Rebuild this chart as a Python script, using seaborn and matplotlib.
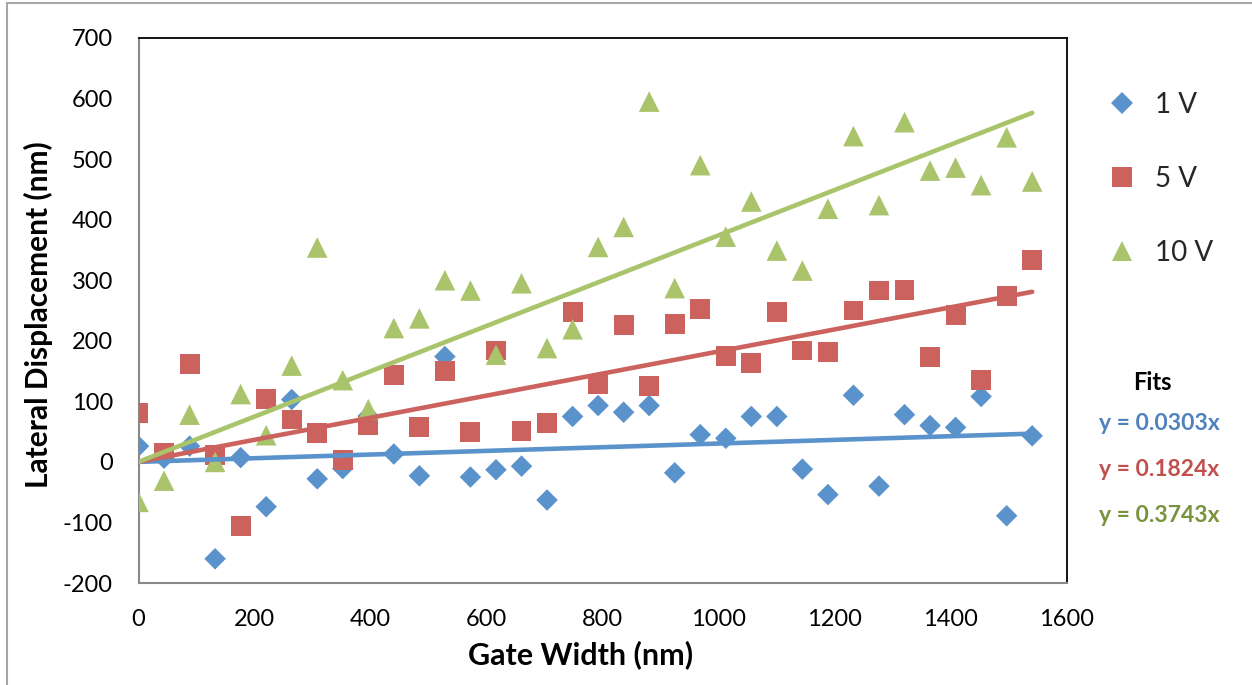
import matplotlib
matplotlib.use("Agg")
import matplotlib.pyplot as plt
import seaborn as sns
import pandas as pd
import numpy as np
from matplotlib.lines import Line2D
from matplotlib.patches import Rectangle

# ---------------- data ----------------
gate_width = [0, 44, 88, 132, 176, 220, 264, 308, 352, 396, 440, 484, 528, 572,
              616, 660, 704, 748, 792, 836, 880, 924, 968, 1012, 1056, 1100,
              1144, 1188, 1232, 1276, 1320, 1364, 1408, 1452, 1496, 1540]

disp_1v = [26, 6, 26, -160, 7, -74, 103, -28, -11, 76, 13, -23, 174, -25,
           -13, -7, -63, 75, 93, 82, 93, -18, 45, 39, 75, 75,
           -12, -54, 110, -40, 78, 60, 57, 108, -89, 43]

disp_5v = [81, 15, 161, 12, -106, 104, 70, 47, 3, 60, 144, 57, 150, 49,
           184, 51, 64, 248, 128, 226, 125, 228, 253, 175, 163, 248,
           184, 181, 250, 283, 284, 173, 242, 135, 274, 333]

disp_10v = [-66, -31, 78, 0, 112, 44, 159, 354, 135, 87, 221, 237, 300, 283,
            177, 295, 188, 219, 355, 388, 595, 287, 490, 372, 430, 349,
            316, 418, 538, 424, 561, 481, 486, 457, 536, 463]

series_names = ["1 V", "5 V", "10 V"]
fit_slopes = [0.0303, 0.1824, 0.3743]
fit_labels = ["y = 0.0303x", "y = 0.1824x", "y = 0.3743x"]

x_ticks = [0, 200, 400, 600, 800, 1000, 1200, 1400, 1600]
y_ticks = [-200, -100, 0, 100, 200, 300, 400, 500, 600, 700]

# ---------------- styling ----------------
marker_colors = {"1 V": "#5A92CB", "5 V": "#CC625D", "10 V": "#A9C46B"}
text_colors = ["#4F81BD", "#C0504D", "#77933C"]
marker_shapes = {"1 V": "D", "5 V": "s", "10 V": "^"}
marker_sizes = {"1 V": 120, "5 V": 205, "10 V": 220}

sns.set_theme(style="white")
plt.rcParams["font.family"] = ["Lato", "DejaVu Sans"]
plt.rcParams["axes.unicode_minus"] = False

df = pd.DataFrame({
    "Gate Width": gate_width * 3,
    "Displacement": disp_1v + disp_5v + disp_10v,
    "Series": [series_names[0]] * len(gate_width)
              + [series_names[1]] * len(gate_width)
              + [series_names[2]] * len(gate_width),
})

W, H = 1252, 685
fig = plt.figure(figsize=(W / 100, H / 100), dpi=100)
ax_l, ax_r, ax_t, ax_b = 138.5, 1067, 38, 583
ax = fig.add_axes([ax_l / W, 1 - ax_b / H, (ax_r - ax_l) / W, (ax_b - ax_t) / H])

sns.scatterplot(data=df, x="Gate Width", y="Displacement", hue="Series",
                style="Series", size="Series", palette=marker_colors,
                markers=marker_shapes, sizes=marker_sizes, linewidth=0,
                legend=False, ax=ax, zorder=3)

xmax = max(gate_width)
for name, slope in zip(series_names, fit_slopes):
    fx = np.array([0, xmax])
    sns.lineplot(x=fx, y=slope * fx, color=marker_colors[name], linewidth=3.3,
                 ax=ax, zorder=4, solid_capstyle="round")

ax.set_xlim(0, 1600)
ax.set_ylim(-200, 700)
ax.set_xticks(x_ticks)
ax.set_yticks(y_ticks)
ax.set_xlabel("")
ax.set_ylabel("")
ax.grid(False)

for side in ["left", "bottom"]:
    ax.spines[side].set_color("#898989")
    ax.spines[side].set_linewidth(1.5)
for side in ["top", "right"]:
    ax.spines[side].set_color("#000000")
    ax.spines[side].set_linewidth(1.3)
    ax.spines[side].set_visible(True)

ax.tick_params(axis="both", direction="inout", length=11, width=1.3,
               color="#898989", labelsize=17, labelcolor="#000000")
ax.tick_params(axis="y", pad=13)
ax.tick_params(axis="x", pad=13)

fig.text(581 / W, 1 - 655 / H, "Gate Width (nm)", ha="center", va="center",
         fontsize=22, fontweight="bold", color="#000000")
fig.text(38 / W, 1 - 315 / H, "Lateral Displacement (nm)", ha="center",
         va="center", rotation=90, fontsize=21.5, fontweight="bold",
         color="#000000")

# legend
handles = [Line2D([0], [0], marker=marker_shapes[n], linestyle="none",
                  markerfacecolor=marker_colors[n], markeredgewidth=0,
                  markersize=np.sqrt(marker_sizes[n]))
           for n in series_names]
fig.legend(handles, series_names, loc="upper left",
           bbox_to_anchor=(1105 / W, 1 - 92 / H), bbox_transform=fig.transFigure,
           frameon=False, fontsize=20, labelspacing=1.72, handlelength=1.2,
           handletextpad=0.6, borderpad=0, borderaxespad=0)

# fits annotation
fig.text(1152 / W, 1 - 382 / H, "Fits", ha="center", va="center",
         fontsize=17, fontweight="bold", color="#000000")
for i, (lab, col) in enumerate(zip(fit_labels, text_colors)):
    fig.text(1159 / W, 1 - (424 + 46 * i) / H, lab, ha="center", va="center",
             fontsize=16.5, fontweight="bold", color=col)

# chart-area border (top and left visible)
fig.add_artist(Rectangle((7 / W, -0.05), 1.2, 1 - 3 / H + 0.05,
                         transform=fig.transFigure, fill=False,
                         edgecolor="#A6A6A6", linewidth=1.5))

fig.savefig("out.png", dpi=100)
